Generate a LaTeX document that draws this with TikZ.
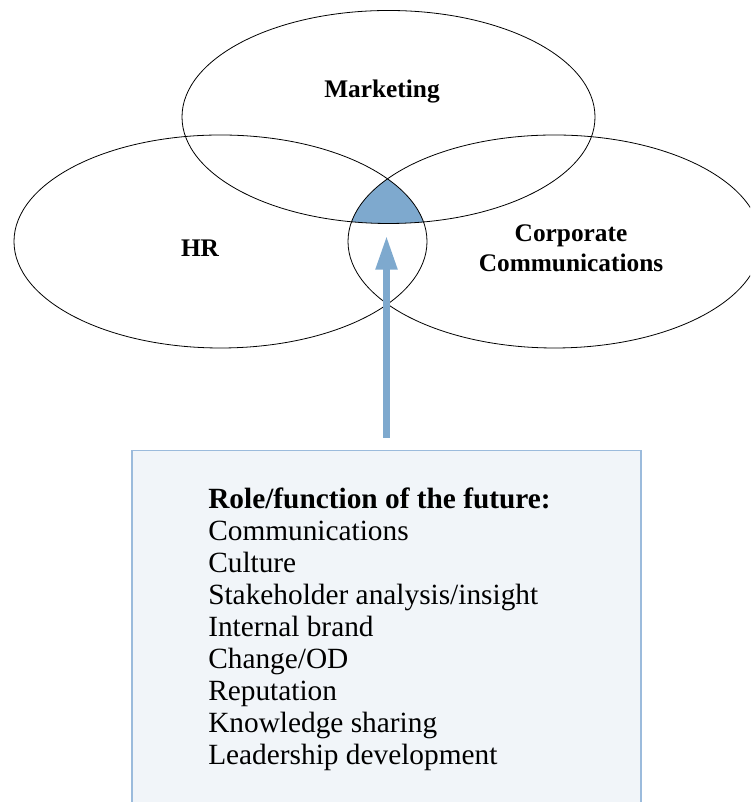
\documentclass[tikz,border=0pt]{standalone}
\usepackage{fontspec}
\setmainfont{Liberation Serif}
\usetikzlibrary{arrows.meta}

\definecolor{coreblue}{HTML}{7EA9CE}
\definecolor{boxfill}{HTML}{F1F5F9}
\definecolor{boxline}{HTML}{9BBBDC}

\tikzset{
  venntext/.style={font=\fontsize{19}{22.5}\selectfont\bfseries, align=center},
  futurebox/.style={draw=boxline, fill=boxfill, line width=1pt, minimum width=381.75pt, minimum height=330pt},
  itemtext/.style={font=\fontsize{22}{24}\selectfont, anchor=base west, inner sep=0pt},
  corearrow/.style={draw=coreblue, line width=5.8pt, -{Triangle[length=26pt,width=15pt]}}
}

\begin{document}
\begin{tikzpicture}[x=0.75pt,y=0.75pt]
\useasboundingbox (0,0) rectangle (750,802);
\clip (0,0) rectangle (750,802);

% core of the three
\begin{scope}
\clip (388.5,685) ellipse [x radius=206.5, y radius=106.5];
\clip (220.5,560.5) ellipse [x radius=206.5, y radius=106.5];
\fill[coreblue] (554.5,560.5) ellipse [x radius=206.5, y radius=106.5];
\end{scope}

% ellipses
\newcommand\vennring[2]{ \draw[line width=0.6pt] (#1,#2) ellipse [x radius=206.5, y radius=106.5]; }
\vennring{388.5}{685}
\vennring{220.5}{560.5}
\vennring{554.5}{560.5}

% labels
\node[venntext, anchor=base] (marketing) at (382,704) {Marketing};
\node[venntext, anchor=base] (hr) at (200,545.3) {HR};
\node[venntext] (corpcomm) at (571,553.7) {Corporate\\Communications};

% box
\node[futurebox, anchor=north] (future) at (386.5,352) {};
\node[itemtext, font=\fontsize{22}{24}\selectfont\bfseries] (title) at (208,293) {Role/function of the future:};
\foreach \role [count=\i] in {Communications, Culture, Stakeholder analysis/insight, Internal brand, Change/OD, Reputation, Knowledge sharing, Leadership development}
  \node[itemtext] (role\i) at (208,293-31.9*\i) {\role};

% arrow
\coordinate (core) at (386.5,567);
\draw[corearrow] ([yshift=9pt]future.north) -- (core);
\end{tikzpicture}
\end{document}
